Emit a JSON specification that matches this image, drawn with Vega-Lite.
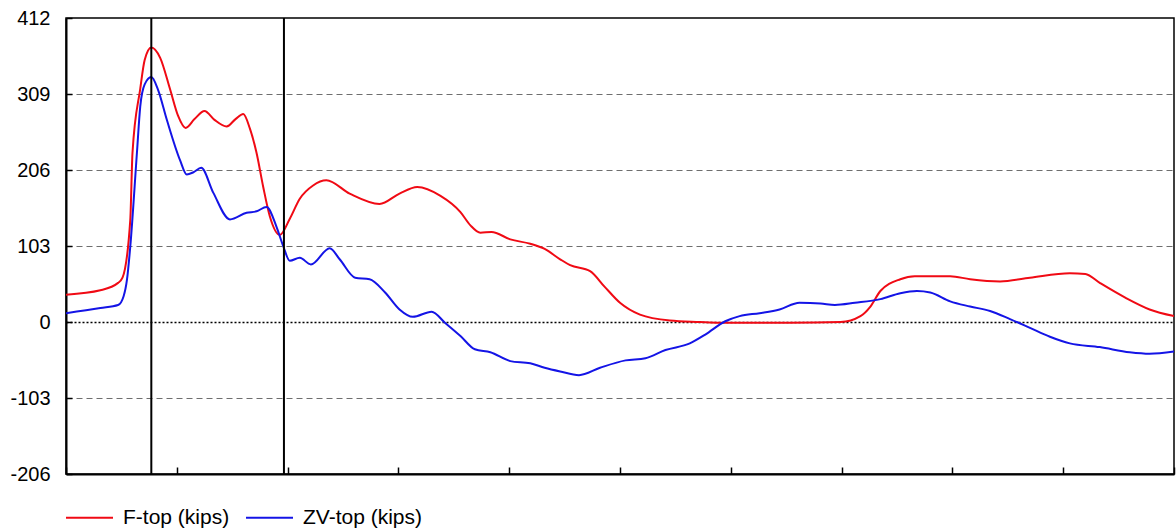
{
  "$schema": "https://vega.github.io/schema/vega-lite/v6.json",
  "width": 1108,
  "height": 456,
  "autosize": "none",
  "padding": {"left": 66, "top": 18, "right": 2, "bottom": 55},
  "background": "white",
  "config": {
    "font": "Liberation Sans",
    "view": {"stroke": "black", "strokeWidth": 1.5},
    "axis": {"labelFont": "Liberation Sans", "titleFont": "Liberation Sans"}
  },
  "datasets": {
    "series": [
      {"x": 0.00, "v": 37, "s": "F-top (kips)"},
      {"x": 0.31, "v": 43, "s": "F-top (kips)"},
      {"x": 0.47, "v": 53, "s": "F-top (kips)"},
      {"x": 0.51, "v": 60, "s": "F-top (kips)"},
      {"x": 0.58, "v": 138, "s": "F-top (kips)"},
      {"x": 0.60, "v": 229, "s": "F-top (kips)"},
      {"x": 0.67, "v": 316, "s": "F-top (kips)"},
      {"x": 0.71, "v": 355, "s": "F-top (kips)"},
      {"x": 0.77, "v": 372, "s": "F-top (kips)"},
      {"x": 0.85, "v": 358, "s": "F-top (kips)"},
      {"x": 0.94, "v": 315, "s": "F-top (kips)"},
      {"x": 1.01, "v": 280, "s": "F-top (kips)"},
      {"x": 1.08, "v": 263, "s": "F-top (kips)"},
      {"x": 1.16, "v": 275, "s": "F-top (kips)"},
      {"x": 1.25, "v": 286, "s": "F-top (kips)"},
      {"x": 1.34, "v": 274, "s": "F-top (kips)"},
      {"x": 1.45, "v": 265, "s": "F-top (kips)"},
      {"x": 1.53, "v": 275, "s": "F-top (kips)"},
      {"x": 1.60, "v": 282, "s": "F-top (kips)"},
      {"x": 1.66, "v": 262, "s": "F-top (kips)"},
      {"x": 1.72, "v": 229, "s": "F-top (kips)"},
      {"x": 1.78, "v": 183, "s": "F-top (kips)"},
      {"x": 1.84, "v": 143, "s": "F-top (kips)"},
      {"x": 1.93, "v": 118, "s": "F-top (kips)"},
      {"x": 2.02, "v": 140, "s": "F-top (kips)"},
      {"x": 2.11, "v": 167, "s": "F-top (kips)"},
      {"x": 2.23, "v": 185, "s": "F-top (kips)"},
      {"x": 2.35, "v": 192, "s": "F-top (kips)"},
      {"x": 2.56, "v": 174, "s": "F-top (kips)"},
      {"x": 2.83, "v": 160, "s": "F-top (kips)"},
      {"x": 3.01, "v": 174, "s": "F-top (kips)"},
      {"x": 3.17, "v": 183, "s": "F-top (kips)"},
      {"x": 3.38, "v": 171, "s": "F-top (kips)"},
      {"x": 3.56, "v": 149, "s": "F-top (kips)"},
      {"x": 3.65, "v": 131, "s": "F-top (kips)"},
      {"x": 3.74, "v": 121, "s": "F-top (kips)"},
      {"x": 3.84, "v": 122, "s": "F-top (kips)"},
      {"x": 4.01, "v": 112, "s": "F-top (kips)"},
      {"x": 4.19, "v": 106, "s": "F-top (kips)"},
      {"x": 4.32, "v": 99, "s": "F-top (kips)"},
      {"x": 4.46, "v": 85, "s": "F-top (kips)"},
      {"x": 4.55, "v": 77, "s": "F-top (kips)"},
      {"x": 4.73, "v": 69, "s": "F-top (kips)"},
      {"x": 4.86, "v": 48, "s": "F-top (kips)"},
      {"x": 5.00, "v": 26, "s": "F-top (kips)"},
      {"x": 5.18, "v": 10, "s": "F-top (kips)"},
      {"x": 5.45, "v": 2, "s": "F-top (kips)"},
      {"x": 5.72, "v": 0, "s": "F-top (kips)"},
      {"x": 5.90, "v": -1, "s": "F-top (kips)"},
      {"x": 6.53, "v": -1, "s": "F-top (kips)"},
      {"x": 6.99, "v": 0, "s": "F-top (kips)"},
      {"x": 7.17, "v": 8, "s": "F-top (kips)"},
      {"x": 7.26, "v": 21, "s": "F-top (kips)"},
      {"x": 7.35, "v": 42, "s": "F-top (kips)"},
      {"x": 7.53, "v": 58, "s": "F-top (kips)"},
      {"x": 7.66, "v": 62, "s": "F-top (kips)"},
      {"x": 7.98, "v": 62, "s": "F-top (kips)"},
      {"x": 8.16, "v": 58, "s": "F-top (kips)"},
      {"x": 8.43, "v": 55, "s": "F-top (kips)"},
      {"x": 8.70, "v": 60, "s": "F-top (kips)"},
      {"x": 9.06, "v": 66, "s": "F-top (kips)"},
      {"x": 9.20, "v": 65, "s": "F-top (kips)"},
      {"x": 9.33, "v": 53, "s": "F-top (kips)"},
      {"x": 9.56, "v": 33, "s": "F-top (kips)"},
      {"x": 9.78, "v": 17, "s": "F-top (kips)"},
      {"x": 10.00, "v": 8, "s": "F-top (kips)"},
      {"x": 0.00, "v": 12, "s": "ZV-top (kips)"},
      {"x": 0.31, "v": 19, "s": "ZV-top (kips)"},
      {"x": 0.47, "v": 23, "s": "ZV-top (kips)"},
      {"x": 0.52, "v": 35, "s": "ZV-top (kips)"},
      {"x": 0.55, "v": 57, "s": "ZV-top (kips)"},
      {"x": 0.58, "v": 102, "s": "ZV-top (kips)"},
      {"x": 0.64, "v": 229, "s": "ZV-top (kips)"},
      {"x": 0.67, "v": 292, "s": "ZV-top (kips)"},
      {"x": 0.71, "v": 322, "s": "ZV-top (kips)"},
      {"x": 0.77, "v": 332, "s": "ZV-top (kips)"},
      {"x": 0.83, "v": 315, "s": "ZV-top (kips)"},
      {"x": 0.91, "v": 274, "s": "ZV-top (kips)"},
      {"x": 1.03, "v": 219, "s": "ZV-top (kips)"},
      {"x": 1.09, "v": 200, "s": "ZV-top (kips)"},
      {"x": 1.15, "v": 203, "s": "ZV-top (kips)"},
      {"x": 1.22, "v": 209, "s": "ZV-top (kips)"},
      {"x": 1.33, "v": 175, "s": "ZV-top (kips)"},
      {"x": 1.48, "v": 139, "s": "ZV-top (kips)"},
      {"x": 1.63, "v": 148, "s": "ZV-top (kips)"},
      {"x": 1.72, "v": 150, "s": "ZV-top (kips)"},
      {"x": 1.81, "v": 156, "s": "ZV-top (kips)"},
      {"x": 1.90, "v": 129, "s": "ZV-top (kips)"},
      {"x": 1.96, "v": 103, "s": "ZV-top (kips)"},
      {"x": 2.02, "v": 83, "s": "ZV-top (kips)"},
      {"x": 2.11, "v": 87, "s": "ZV-top (kips)"},
      {"x": 2.21, "v": 78, "s": "ZV-top (kips)"},
      {"x": 2.38, "v": 100, "s": "ZV-top (kips)"},
      {"x": 2.47, "v": 85, "s": "ZV-top (kips)"},
      {"x": 2.61, "v": 60, "s": "ZV-top (kips)"},
      {"x": 2.74, "v": 58, "s": "ZV-top (kips)"},
      {"x": 2.88, "v": 40, "s": "ZV-top (kips)"},
      {"x": 3.01, "v": 17, "s": "ZV-top (kips)"},
      {"x": 3.13, "v": 7, "s": "ZV-top (kips)"},
      {"x": 3.30, "v": 14, "s": "ZV-top (kips)"},
      {"x": 3.42, "v": -1, "s": "ZV-top (kips)"},
      {"x": 3.56, "v": -19, "s": "ZV-top (kips)"},
      {"x": 3.69, "v": -37, "s": "ZV-top (kips)"},
      {"x": 3.83, "v": -41, "s": "ZV-top (kips)"},
      {"x": 4.01, "v": -53, "s": "ZV-top (kips)"},
      {"x": 4.19, "v": -56, "s": "ZV-top (kips)"},
      {"x": 4.32, "v": -62, "s": "ZV-top (kips)"},
      {"x": 4.46, "v": -67, "s": "ZV-top (kips)"},
      {"x": 4.63, "v": -72, "s": "ZV-top (kips)"},
      {"x": 4.82, "v": -62, "s": "ZV-top (kips)"},
      {"x": 5.05, "v": -52, "s": "ZV-top (kips)"},
      {"x": 5.23, "v": -49, "s": "ZV-top (kips)"},
      {"x": 5.41, "v": -38, "s": "ZV-top (kips)"},
      {"x": 5.63, "v": -29, "s": "ZV-top (kips)"},
      {"x": 5.77, "v": -17, "s": "ZV-top (kips)"},
      {"x": 5.95, "v": 1, "s": "ZV-top (kips)"},
      {"x": 6.08, "v": 8, "s": "ZV-top (kips)"},
      {"x": 6.26, "v": 12, "s": "ZV-top (kips)"},
      {"x": 6.44, "v": 17, "s": "ZV-top (kips)"},
      {"x": 6.62, "v": 26, "s": "ZV-top (kips)"},
      {"x": 6.81, "v": 25, "s": "ZV-top (kips)"},
      {"x": 6.94, "v": 23, "s": "ZV-top (kips)"},
      {"x": 7.12, "v": 26, "s": "ZV-top (kips)"},
      {"x": 7.35, "v": 31, "s": "ZV-top (kips)"},
      {"x": 7.53, "v": 39, "s": "ZV-top (kips)"},
      {"x": 7.68, "v": 42, "s": "ZV-top (kips)"},
      {"x": 7.80, "v": 40, "s": "ZV-top (kips)"},
      {"x": 7.98, "v": 28, "s": "ZV-top (kips)"},
      {"x": 8.16, "v": 21, "s": "ZV-top (kips)"},
      {"x": 8.34, "v": 15, "s": "ZV-top (kips)"},
      {"x": 8.52, "v": 4, "s": "ZV-top (kips)"},
      {"x": 8.70, "v": -8, "s": "ZV-top (kips)"},
      {"x": 8.88, "v": -20, "s": "ZV-top (kips)"},
      {"x": 9.06, "v": -29, "s": "ZV-top (kips)"},
      {"x": 9.33, "v": -34, "s": "ZV-top (kips)"},
      {"x": 9.60, "v": -41, "s": "ZV-top (kips)"},
      {"x": 9.78, "v": -43, "s": "ZV-top (kips)"},
      {"x": 10.00, "v": -40, "s": "ZV-top (kips)"}
    ],
    "markers": [{"x": 0.77}, {"x": 1.967}]
  },
  "layer": [
    {
      "data": {"name": "series"},
      "mark": {"type": "line", "interpolate": "monotone", "strokeWidth": 2, "clip": true},
      "encoding": {
        "x": {
          "field": "x", "type": "quantitative",
          "scale": {"domain": [0, 10], "nice": false, "zero": false},
          "axis": {
            "values": [0, 1, 2, 3, 4, 5, 6, 7, 8, 9, 10],
            "labels": false, "title": null, "grid": false,
            "domainColor": "black", "domainWidth": 2,
            "tickColor": "black", "tickWidth": 1.5, "tickSize": -7
          }
        },
        "y": {
          "field": "v", "type": "quantitative",
          "scale": {"domain": [-206, 412], "nice": false, "zero": false},
          "axis": {
            "values": [-206, -103, 0, 103, 206, 309, 412],
            "labelExpr": "'' + datum.value",
            "title": null,
            "labelFontSize": 20, "labelColor": "black", "labelPadding": 22,
            "domainColor": "black", "domainWidth": 2,
            "tickColor": "black", "tickWidth": 1.5, "tickSize": -6,
            "grid": true,
            "gridColor": {"condition": {"test": "datum.value === 0", "value": "black"}, "value": "#6e6e6e"},
            "gridDash": {"condition": {"test": "datum.value === 0", "value": [2, 2]}, "value": [6, 4]},
            "gridWidth": {"condition": {"test": "datum.value === 0", "value": 1.5}, "value": 1.2},
            "gridOpacity": {"condition": {"test": "datum.value === 412 || datum.value === -206", "value": 0}, "value": 1}
          }
        },
        "color": {
          "field": "s", "type": "nominal",
          "scale": {"domain": ["F-top (kips)", "ZV-top (kips)"], "range": ["#f00a14", "#1414e6"]},
          "legend": {
            "orient": "none", "legendX": -1, "legendY": 475,
            "direction": "horizontal", "title": null,
            "symbolType": "stroke", "symbolSize": 2209, "symbolStrokeWidth": 2,
            "labelFontSize": 21, "labelColor": "black", "labelOffset": 9,
            "columnPadding": 12, "padding": 0
          }
        }
      }
    },
    {
      "data": {"name": "markers"},
      "mark": {"type": "rule", "color": "black", "strokeWidth": 2},
      "encoding": {"x": {"field": "x", "type": "quantitative"}}
    }
  ]
}
